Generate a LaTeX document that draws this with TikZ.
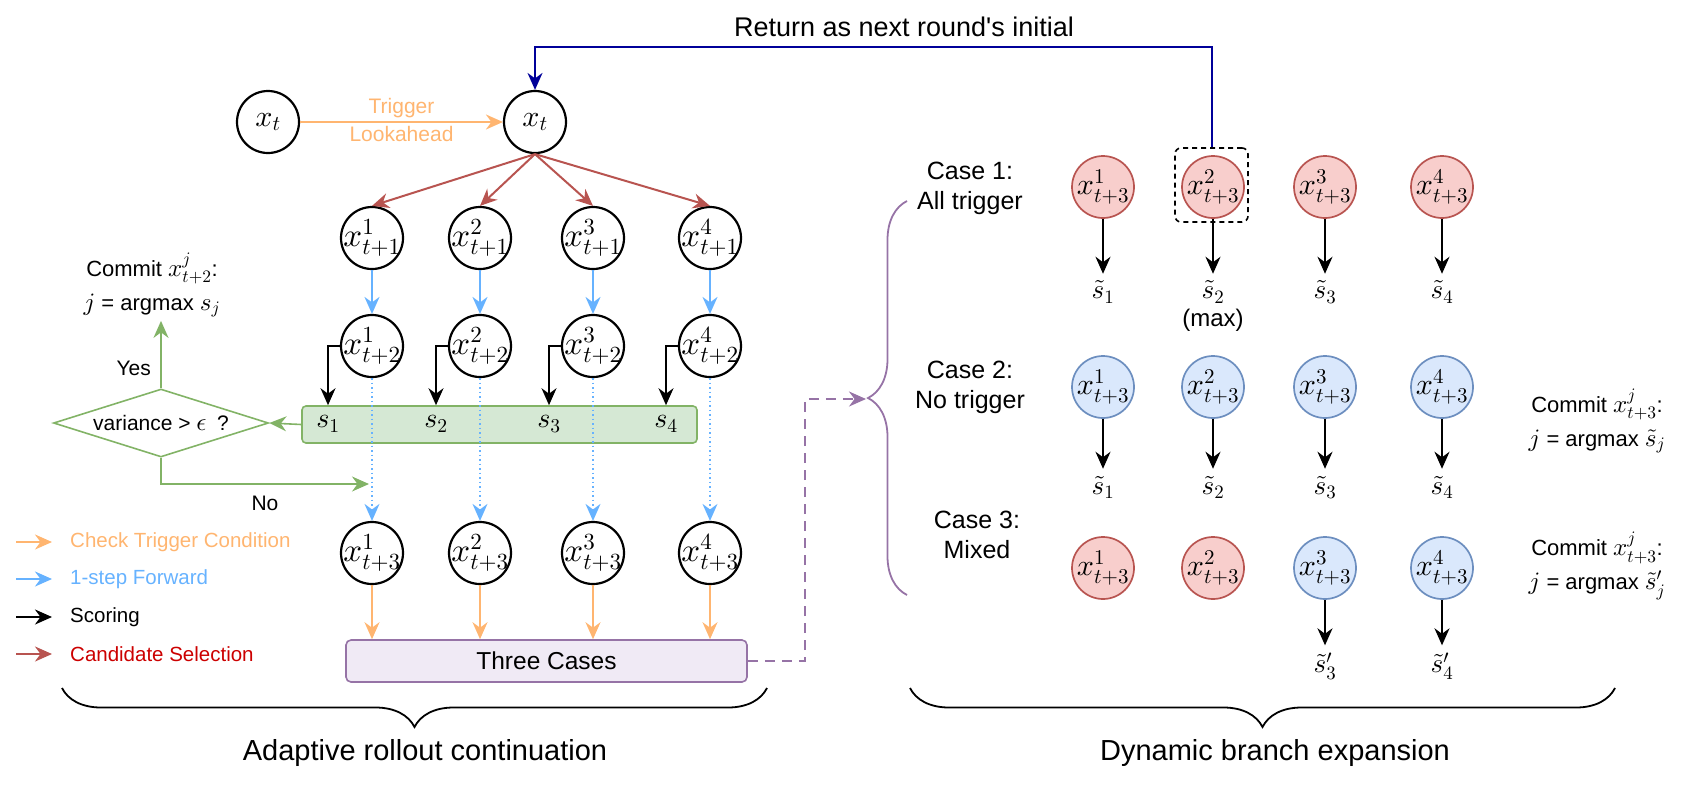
\documentclass[tikz,border=0pt]{standalone}
\usepackage[no-math]{fontspec}
\setmainfont{Liberation Sans}
\usepackage{amsmath}
\usetikzlibrary{arrows.meta, calc, positioning, shapes.geometric, decorations.pathreplacing}

% scalable math fonts
\DeclareFontShape{OML}{cmm}{m}{it}{<->cmmi10}{}
\DeclareFontShape{OT1}{cmr}{m}{n}{<->cmr10}{}
\DeclareFontShape{OMS}{cmsy}{m}{n}{<->cmsy10}{}
\DeclareFontShape{OMX}{cmex}{m}{n}{<->cmex10}{}

\definecolor{trigorange}{HTML}{FFB570}
\definecolor{fwdblue}{HTML}{66B2FF}
\definecolor{selred}{HTML}{B85450}
\definecolor{seltext}{HTML}{CC0000}
\definecolor{vargreen}{HTML}{82B366}
\definecolor{varfill}{HTML}{D5E8D4}
\definecolor{casepurple}{HTML}{9673A6}
\definecolor{casefill}{HTML}{F0EAF5}
\definecolor{trigfill}{HTML}{F8CECC}
\definecolor{notrigfill}{HTML}{DAE8FC}
\definecolor{notrigline}{HTML}{6C8EBF}
\definecolor{returnblue}{HTML}{000099}

\newcommand{\xlab}[2]{\makebox[0pt]{$x^{#1}_{#2}$}}
\newcommand{\bigmath}[1]{{\fontsize{25}{25}\selectfont$#1$}}

\begin{document}
\begin{tikzpicture}[x=1pt, y=-1pt, >={Stealth[length=17pt, width=15pt]},
    xstate/.style={circle, draw, line width=2.2pt, minimum size=62pt, inner sep=0pt,
        font=\fontsize{33}{33}\selectfont},
    trig/.style={xstate, draw=selred, fill=trigfill, line width=1.7pt, font=\fontsize{30}{30}\selectfont},
    notrig/.style={xstate, draw=notrigline, fill=notrigfill, line width=1.7pt, font=\fontsize{30}{30}\selectfont},
    conn/.style={->, line width=2pt},
    score/.style={font=\fontsize{27}{27}\selectfont, inner sep=7pt},
    label text/.style={font=\fontsize{25}{30}\selectfont, align=center},
    small text/.style={font=\fontsize{21}{25}\selectfont},
    legend text/.style={font=\fontsize{20.5}{24}\selectfont, anchor=west, inner xsep=0pt},
    commit text/.style={font=\fontsize{22}{34}\selectfont, align=center},
    caption text/.style={font=\fontsize{29}{32}\selectfont}
]
\useasboundingbox (0,0) rectangle (1684,785);

% adaptive rollout continuation
\node[xstate, font=\fontsize{30}{30}\selectfont] (x00) at (268,122) {$x_t$};
\node[xstate, font=\fontsize{30}{30}\selectfont] (x0) at (535,122) {$x_t$};
\draw[conn, trigorange] (x00) -- (x0)
    node[midway, above, small text, text=trigorange, inner sep=3pt] {Trigger}
    node[midway, below, small text, text=trigorange, inner sep=3pt] {Lookahead};

\node[xstate] (a1) at (372,238) {\xlab{1}{t+1}};
\node[xstate] (a2) at (480,238) {\xlab{2}{t+1}};
\node[xstate] (a3) at (593,238) {\xlab{3}{t+1}};
\node[xstate] (a4) at (710,238) {\xlab{4}{t+1}};
\draw[conn, selred] (x0.south) -- (a1.north);
\draw[conn, selred] (x0.south) -- (a2.north);
\draw[conn, selred] (x0.south) -- (a3.north);
\draw[conn, selred] (x0.south) -- (a4.north);

\node[xstate] (b1) at (372,346) {\xlab{1}{t+2}};
\node[xstate] (b2) at (480,346) {\xlab{2}{t+2}};
\node[xstate] (b3) at (593,346) {\xlab{3}{t+2}};
\node[xstate] (b4) at (710,346) {\xlab{4}{t+2}};
\draw[conn, fwdblue] (a1) -- (b1);
\draw[conn, fwdblue] (a2) -- (b2);
\draw[conn, fwdblue] (a3) -- (b3);
\draw[conn, fwdblue] (a4) -- (b4);

\node[draw=vargreen, fill=varfill, line width=1.6pt, rounded corners=4pt,
    minimum width=395pt, minimum height=37pt] (sbox) at (499.5,424.5) {};
\node[score, font=\fontsize{28}{28}\selectfont, inner sep=0pt] (s1) at (328,424) {$s_1$};
\node[score, font=\fontsize{28}{28}\selectfont, inner sep=0pt] (s2) at (436,424) {$s_2$};
\node[score, font=\fontsize{28}{28}\selectfont, inner sep=0pt] (s3) at (549,424) {$s_3$};
\node[score, font=\fontsize{28}{28}\selectfont, inner sep=0pt] (s4) at (666,424) {$s_4$};
\draw[conn] (b1.west) -| (s1 |- sbox.north);
\draw[conn] (b2.west) -| (s2 |- sbox.north);
\draw[conn] (b3.west) -| (s3 |- sbox.north);
\draw[conn] (b4.west) -| (s4 |- sbox.north);

\node[diamond, draw=vargreen, line width=1.6pt, minimum width=215pt, minimum height=68pt,
    inner sep=0pt, small text] (var) at (161,423) {\makebox[0pt]{variance > \bigmath{\epsilon}\enspace ?}};
\draw[conn, vargreen, line width=1.6pt] (sbox.west) -- (var.east);
\node[commit text] (commit2) at (152,285) {Commit \bigmath{x^j_{t+2}}:\\\bigmath{j} = argmax \bigmath{s_j}};
\draw[conn, vargreen, line width=1.6pt] (var.north) -- (var.north |- commit2.south)
    node[pos=0.3, left=6pt, small text, text=black] {Yes};
\coordinate (nohit) at (369,484);
\draw[conn, vargreen, line width=1.6pt] (var.south) |- (nohit)
    node[pos=0.75, below=8pt, small text, text=black] {No};

\node[xstate] (c1) at (372,553) {\xlab{1}{t+3}};
\node[xstate] (c2) at (480,553) {\xlab{2}{t+3}};
\node[xstate] (c3) at (593,553) {\xlab{3}{t+3}};
\node[xstate] (c4) at (710,553) {\xlab{4}{t+3}};
\draw[conn, fwdblue, line width=1.3pt, dash pattern=on 1.5pt off 3pt] (b1) -- (c1);
\draw[conn, fwdblue, line width=1.3pt, dash pattern=on 1.5pt off 3pt] (b2) -- (c2);
\draw[conn, fwdblue, line width=1.3pt, dash pattern=on 1.5pt off 3pt] (b3) -- (c3);
\draw[conn, fwdblue, line width=1.3pt, dash pattern=on 1.5pt off 3pt] (b4) -- (c4);

\node[draw=casepurple, fill=casefill, line width=1.6pt, rounded corners=5pt,
    minimum width=401pt, minimum height=42pt, font=\fontsize{24.5}{28}\selectfont]
    (three) at (546.5,661) {Three Cases};
\draw[conn, trigorange] (c1) -- (c1 |- three.north);
\draw[conn, trigorange] (c2) -- (c2 |- three.north);
\draw[conn, trigorange] (c3) -- (c3 |- three.north);
\draw[conn, trigorange] (c4) -- (c4 |- three.north);

% legend
\node[legend text, text=trigorange] (leg1) at (70,542) {Check Trigger Condition};
\node[legend text, text=fwdblue] (leg2) at (70,579) {1-step Forward};
\node[legend text] (leg3) at (70,617) {Scoring};
\node[legend text, text=seltext] (leg4) at (70,654) {Candidate Selection};
\coordinate (l1) at (16,542);
\coordinate (l2) at (16,579);
\coordinate (l3) at (16,617);
\coordinate (l4) at (16,654);
\draw[conn, trigorange, shorten >=18pt] (l1) -- (leg1.west);
\draw[conn, fwdblue, shorten >=18pt] (l2) -- (leg2.west);
\draw[conn, shorten >=18pt] (l3) -- (leg3.west);
\draw[conn, selred, shorten >=18pt] (l4) -- (leg4.west);

\draw[decorate, decoration={brace, mirror, amplitude=39pt}, line width=1.8pt] (62,688) -- (767,688);
\node[caption text] (leftcap) at (425,753) {Adaptive rollout continuation};

% dynamic branch expansion
\node[label text] (case1) at (970,188) {Case 1:\\All trigger};
\node[label text] (case2) at (970,387) {Case 2:\\No trigger};
\node[label text] (case3) at (977,535) {Case 3:\\Mixed};

\node[trig] (p1) at (1103,187) {\xlab{1}{t+3}};
\node[trig] (p2) at (1213,187) {\xlab{2}{t+3}};
\node[trig] (p3) at (1325,187) {\xlab{3}{t+3}};
\node[trig] (p4) at (1442,187) {\xlab{4}{t+3}};
\node[score] (t1) at (1103,292) {$\tilde{s}_1$};
\node[score] (t2) at (1213,292) {$\tilde{s}_2$};
\node[score] (t3) at (1325,292) {$\tilde{s}_3$};
\node[score] (t4) at (1442,292) {$\tilde{s}_4$};
\draw[conn] (p1) -- (t1);
\draw[conn] (p2) -- (t2);
\draw[conn] (p3) -- (t3);
\draw[conn] (p4) -- (t4);
\node[label text, font=\fontsize{24}{28}\selectfont] (maxnote) at (1213,320) {(max)};

\node[notrig] (q1) at (1103,387) {\xlab{1}{t+3}};
\node[notrig] (q2) at (1213,387) {\xlab{2}{t+3}};
\node[notrig] (q3) at (1325,387) {\xlab{3}{t+3}};
\node[notrig] (q4) at (1442,387) {\xlab{4}{t+3}};
\node[score] (u1) at (1103,487) {$\tilde{s}_1$};
\node[score] (u2) at (1213,487) {$\tilde{s}_2$};
\node[score] (u3) at (1325,487) {$\tilde{s}_3$};
\node[score] (u4) at (1442,487) {$\tilde{s}_4$};
\draw[conn] (q1) -- (u1);
\draw[conn] (q2) -- (u2);
\draw[conn] (q3) -- (u3);
\draw[conn] (q4) -- (u4);

\node[trig] (r1) at (1103,568) {\xlab{1}{t+3}};
\node[trig] (r2) at (1213,568) {\xlab{2}{t+3}};
\node[notrig] (r3) at (1325,568) {\xlab{3}{t+3}};
\node[notrig] (r4) at (1442,568) {\xlab{4}{t+3}};
\node[score] (v3) at (1325,666) {$\tilde{s}'_3$};
\node[score] (v4) at (1442,666) {$\tilde{s}'_4$};
\draw[conn] (r3) -- (v3);
\draw[conn] (r4) -- (v4);

\node[commit text] (commit3) at (1597,421) {Commit \bigmath{x^j_{t+3}}:\\\bigmath{j} = argmax \bigmath{\tilde{s}_j}};
\node[commit text] (commit3b) at (1597,566) {Commit \bigmath{x^j_{t+3}}:\\\bigmath{j} = argmax \bigmath{\tilde{s}'_j}};

\draw[decorate, decoration={brace, amplitude=39pt}, casepurple, line width=1.8pt] (907,595) -- (907,201);
\coordinate (btip) at (866,399);
\coordinate (bend) at (805,399);
\draw[conn, casepurple, dash pattern=on 10pt off 7pt] (three.east) -| (bend) -- (btip);

\draw[decorate, decoration={brace, mirror, amplitude=39pt}, line width=1.8pt] (910,688) -- (1615,688);
\node[caption text] (rightcap) at (1275,753) {Dynamic branch expansion};

% return arrow
\node[draw, rounded corners=6pt, line width=1.6pt, dash pattern=on 5pt off 4pt,
    minimum width=73pt, minimum height=74pt] (pick) at (1211.5,185) {};
\node[font=\fontsize{27}{30}\selectfont] (rettext) at (904,27) {Return as next round\textquotesingle s initial};
\coordinate (retcorner) at (904,47);
\draw[conn, returnblue] (pick.north) |- (retcorner) -| (x0.north);
\end{tikzpicture}
\end{document}
